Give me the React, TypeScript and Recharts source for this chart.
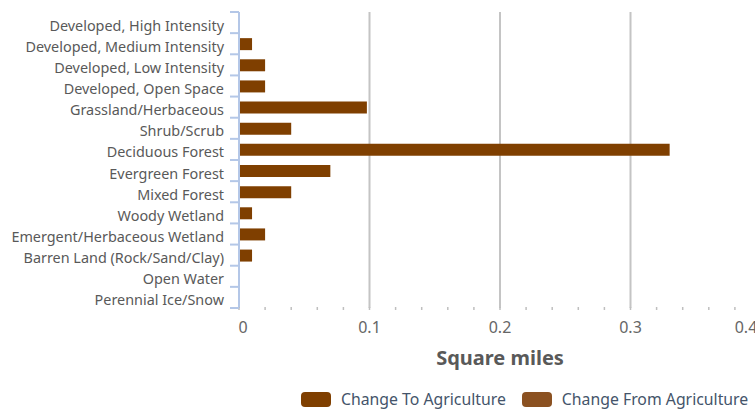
import React from "react";
import { BarChart, Bar, XAxis, YAxis, CartesianGrid, Legend } from "recharts";

const categories = [
  "Developed, High Intensity",
  "Developed, Medium Intensity",
  "Developed, Low Intensity",
  "Developed, Open Space",
  "Grassland/Herbaceous",
  "Shrub/Scrub",
  "Deciduous Forest",
  "Evergreen Forest",
  "Mixed Forest",
  "Woody Wetland",
  "Emergent/Herbaceous Wetland",
  "Barren Land (Rock/Sand/Clay)",
  "Open Water",
  "Perennial Ice/Snow",
];

const seriesNames = ["Change To Agriculture", "Change From Agriculture"];
const changeToAgriculture = [0, 0.01, 0.02, 0.02, 0.098, 0.04, 0.33, 0.07, 0.04, 0.01, 0.02, 0.01, 0, 0];
const changeFromAgriculture = [0, 0, 0, 0, 0, 0, 0, 0, 0, 0, 0, 0, 0, 0];

const xTicks = [0, 0.02, 0.04, 0.06, 0.08, 0.1, 0.12, 0.14, 0.16, 0.18, 0.2, 0.22, 0.24, 0.26, 0.28, 0.3, 0.32, 0.34, 0.36, 0.38, 0.4];
const majorTicks = ["0", "0.1", "0.2", "0.3", "0.4"];
const gridValues = [0.1, 0.2, 0.3, 0.4];

const data = categories.map((name, i) => ({
  name,
  to: changeToAgriculture[i],
  from: changeFromAgriculture[i],
}));

const PLOT_TOP = 12;
const PLOT_HEIGHT = 296;
const BAND = PLOT_HEIGHT / categories.length;
const FONT = "'Noto Sans', sans-serif";

const CategoryTick = ({ x, y, payload, index }: any) => {
  const axisX = x + 15;
  return (
    <g>
      <line x1={axisX - 9} x2={axisX} y1={y - BAND / 2} y2={y - BAND / 2} stroke="#B4C7E7" strokeWidth={2} />
      {index === categories.length - 1 && (
        <line x1={axisX - 9} x2={axisX} y1={y + BAND / 2} y2={y + BAND / 2} stroke="#B4C7E7" strokeWidth={2} />
      )}
      <text x={x} y={y + 8} textAnchor="end" fill="#595959" fontSize={14.4} fontFamily={FONT}>
        {payload.value}
      </text>
    </g>
  );
};

const ValueTick = ({ x, y, payload }: any) => {
  const label = String(Math.round(payload.value * 100) / 100);
  const isMajor = majorTicks.includes(label);
  // nudge the edge labels inward like the original
  const dx = payload.value === 0 ? 4 : payload.value === 0.4 ? -15 : 0;
  return (
    <g>
      <line x1={x} x2={x} y1={y - 1} y2={y + 2} stroke="#BFBFBF" strokeWidth={1.5} />
      {isMajor && (
        <text x={x + dx} y={y + 25} textAnchor="middle" fill="#666666" fontSize={16} fontFamily={FONT}>
          {label}
        </text>
      )}
    </g>
  );
};

const AxisTitle = ({ viewBox }: any) => (
  <text
    x={viewBox.x + viewBox.width / 2}
    y={viewBox.y + 57}
    textAnchor="middle"
    fill="#595959"
    fontSize={20}
    fontWeight="bold"
    fontFamily={FONT}
  >
    Square miles
  </text>
);

const LegendContent = ({ payload }: any) => {
  const items = [...(payload || [])].sort(
    (a: any, b: any) => seriesNames.indexOf(a.value) - seriesNames.indexOf(b.value)
  );
  return (
    <div style={{ display: "flex", alignItems: "center", height: 22, paddingLeft: 293, fontFamily: FONT }}>
      {items.map((entry: any, i: number) => (
        <div key={i} style={{ display: "flex", alignItems: "center", marginRight: 16 }}>
          <span
            style={{
              display: "inline-block",
              width: 30,
              height: 15,
              borderRadius: 4,
              background: entry.color,
              marginRight: 10,
            }}
          />
          <span style={{ fontSize: 15.8, color: "#44546A", whiteSpace: "nowrap" }}>{entry.value}</span>
        </div>
      ))}
    </div>
  );
};

export default function App() {
  return (
    <div style={{ position: "absolute", left: 0, top: 0, width: 755, height: 410, overflow: "hidden", background: "#fff" }}>
      <BarChart
        width={790}
        height={410}
        data={data}
        layout="vertical"
        margin={{ top: PLOT_TOP, right: 29, left: 8, bottom: 0 }}
        style={{ fontFamily: FONT }}
      >
        <CartesianGrid horizontal={false} verticalValues={gridValues} stroke="#C4C4C4" strokeWidth={2} />
        <XAxis
          type="number"
          domain={[0, 0.4]}
          ticks={xTicks}
          interval={0}
          axisLine={false}
          tickLine={false}
          tickSize={0}
          tickMargin={0}
          height={80}
          tick={<ValueTick />}
          label={AxisTitle}
        />
        <YAxis
          type="category"
          dataKey="name"
          width={231}
          interval={0}
          axisLine={{ stroke: "#B4C7E7", strokeWidth: 2 }}
          tickLine={false}
          tickSize={0}
          tickMargin={15}
          tick={<CategoryTick />}
        />
        <Legend verticalAlign="bottom" height={22} content={<LegendContent />} />
        <Bar dataKey="to" name={seriesNames[0]} stackId="a" fill="#7F3F00" barSize={12} isAnimationActive={false} />
        <Bar dataKey="from" name={seriesNames[1]} stackId="a" fill="#8B5121" barSize={12} isAnimationActive={false} />
      </BarChart>
    </div>
  );
}
